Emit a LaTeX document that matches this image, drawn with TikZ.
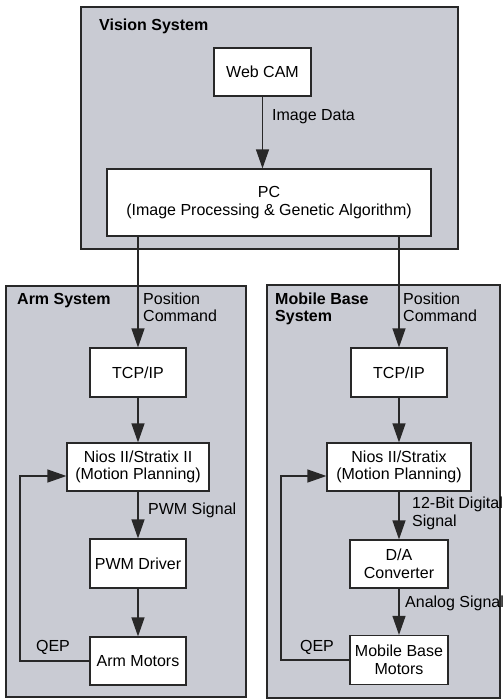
\documentclass[tikz,border=0pt]{standalone}
\usepackage{fontspec}
\setmainfont{Liberation Sans}
\usetikzlibrary{arrows.meta}
\definecolor{sysgray}{RGB}{201,203,211}
\definecolor{edge}{RGB}{40,40,40}
\begin{document}
\begin{tikzpicture}[x=1pt,y=-1pt,
  every node/.style={font=\fontsize{16}{17.5}\selectfont},
  sysbox/.style={draw=edge,line width=1.3pt,fill=sysgray,inner sep=0pt},
  blk/.style={draw=edge,line width=1.2pt,fill=white,inner sep=0pt,align=center},
  lbl/.style={anchor=west,align=left,inner sep=0pt},
  arr/.style={draw=edge,line width=1.2pt,-{Triangle[width=13pt,length=19pt]}}]
\useasboundingbox (0,0) rectangle (503,699);
% system frames
\node[sysbox,minimum width=377pt,minimum height=242pt] (vis) at (269.5,128) {};
\node[sysbox,minimum width=240pt,minimum height=411pt] (arm) at (126,491.5) {};
\node[sysbox,minimum width=233pt,minimum height=413pt] (mob) at (383.5,491.5) {};
\node[lbl,font=\fontsize{16}{17.5}\selectfont\bfseries] (visT) at (99,26) {Vision System};
\node[lbl,font=\fontsize{16}{17.5}\selectfont\bfseries] (armT) at (17,301) {Arm System};
\node[lbl,font=\fontsize{16}{17.5}\selectfont\bfseries] (mobT) at (275,309) {Mobile Base\\System};
% vision blocks
\node[blk,minimum width=97pt,minimum height=48pt] (cam) at (262.5,72) {Web CAM};
\node[blk,minimum width=324pt,minimum height=67pt] (pc) at (269,202.5) {PC\\(Image Processing \& Genetic Algorithm)};
% arm blocks
\node[blk,minimum width=96pt,minimum height=49pt] (tcpA) at (138,372.5) {TCP/IP};
\node[blk,minimum width=142pt,minimum height=48pt] (niosA) at (138,467) {Nios II/Stratix II\\(Motion Planning)};
\node[blk,minimum width=96pt,minimum height=49pt] (pwm) at (138,563.5) {PWM Driver};
\node[blk,minimum width=96pt,minimum height=48pt] (armmot) at (138,661) {Arm Motors};
% mobile base blocks
\node[blk,minimum width=96pt,minimum height=49pt] (tcpB) at (399,372.5) {TCP/IP};
\node[blk,minimum width=144pt,minimum height=48pt] (niosB) at (399,467) {Nios II/Stratix\\(Motion Planning)};
\node[blk,minimum width=98pt,minimum height=48pt] (dac) at (399,564) {D/A\\Converter};
\node[blk,minimum width=98pt,minimum height=49pt] (basemot) at (399,660) {Mobile Base\\Motors};
% connectors
\draw[arr] (cam.south) -- (cam.south |- pc.north);
\draw[arr] (tcpA.north |- pc.south) -- (tcpA.north);
\draw[arr] (tcpB.north |- pc.south) -- (tcpB.north);
\draw[arr] (tcpA) -- (niosA);
\draw[arr] (niosA) -- (pwm);
\draw[arr] (pwm) -- (armmot);
\draw[arr] (tcpB) -- (niosB);
\draw[arr] (niosB) -- (dac);
\draw[arr] (dac) -- (basemot);
\coordinate (fbA) at (20,476);
\coordinate (fbB) at (281,476);
\draw[arr] (armmot.west) -| (fbA) -- (fbA -| niosA.west);
\draw[arr] (basemot.west) -| (fbB) -- (fbB -| niosB.west);
% signal labels
\node[lbl] (imgL) at (272,117) {Image Data};
\node[lbl] (posA) at (143,307.5) {Position\\Command};
\node[lbl] (posB) at (403,307.5) {Position\\Command};
\node[lbl] (pwmL) at (148,510) {PWM Signal};
\node[lbl] (digL) at (412,513.5) {12-Bit Digital\\Signal};
\node[lbl] (anaL) at (405,603) {Analog Signal};
\node (qepA) at (53,647) {QEP};
\node (qepB) at (317,647) {QEP};
\end{tikzpicture}
\end{document}
